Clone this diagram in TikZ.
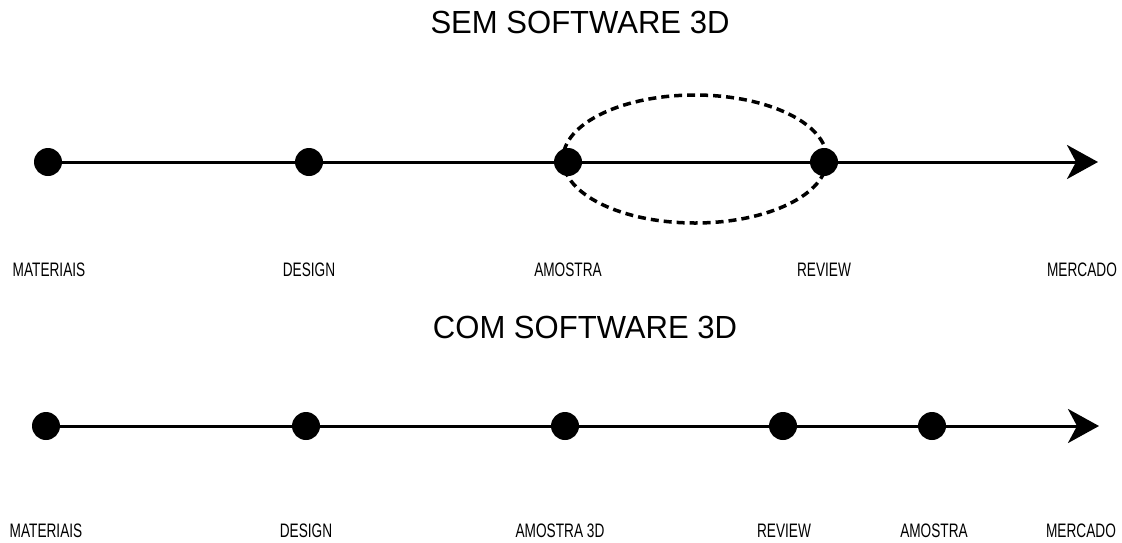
\documentclass[tikz,border=0pt]{standalone}
\usepackage{fontspec}
\usetikzlibrary{arrows.meta}
\newfontfamily\lblfont[FakeStretch=0.70]{Liberation Sans}
\newfontfamily\ttlfont[FakeStretch=0.97]{Liberation Sans}
\tikzset{
  dot/.style={circle, fill=black, minimum size=28pt, inner sep=0pt},
  lbl/.style={font=\lblfont\fontsize{19.5}{22}\selectfont, inner sep=0pt, anchor=center},
  ttl/.style={font=\ttlfont\fontsize{32}{36}\selectfont, inner sep=0pt},
  tline/.style={line width=3pt, draw=black},
  tip/.style={-{Stealth[length=31pt, width=34pt, inset=9pt]}},
  loop/.style={line width=3.5pt, dash pattern=on 8pt off 5pt}
}
\begin{document}
\begin{tikzpicture}[x=1pt, y=-1pt]
  \useasboundingbox (0,0) rectangle (1122,542);

  % --- without 3D software ---
  \node[ttl] (t1) at (580,22.5) {SEM SOFTWARE 3D};
  \node[dot] (a1) at (48,162) {};
  \node[dot] (a2) at (309,162) {};
  \node[dot] (a3) at (568,162) {};
  \node[dot] (a4) at (824,162) {};
  \coordinate (a5) at (1098,162);
  \draw[tline] (a1) -- (a2);
  \draw[tline] (a2) -- (a3);
  \draw[tline] (a3) -- (a4);
  \draw[tline, tip] (a4) -- (a5);
  \draw[loop] (695,159) ellipse [x radius=132, y radius=64];

  \node[lbl] (l1) at (49,270) {MATERIAIS};
  \node[lbl] (l2) at (309,270) {DESIGN};
  \node[lbl] (l3) at (568,270) {AMOSTRA};
  \node[lbl] (l4) at (824,270) {REVIEW};
  \node[lbl] (l5) at (1082,270) {MERCADO};

  % --- with 3D software ---
  \node[ttl] (t2) at (585,327.5) {COM SOFTWARE 3D};
  \node[dot] (b1) at (46,426) {};
  \node[dot] (b2) at (306,426) {};
  \node[dot] (b3) at (565,426) {};
  \node[dot] (b4) at (783,426) {};
  \node[dot] (b5) at (932,426) {};
  \coordinate (b6) at (1099,426);
  \draw[tline] (b1) -- (b2);
  \draw[tline] (b2) -- (b3);
  \draw[tline] (b3) -- (b4);
  \draw[tline] (b4) -- (b5);
  \draw[tline, tip] (b5) -- (b6);

  \node[lbl] (m1) at (46,531) {MATERIAIS};
  \node[lbl] (m2) at (306,531) {DESIGN};
  \node[lbl] (m3) at (560,531) {AMOSTRA 3D};
  \node[lbl] (m4) at (784,531) {REVIEW};
  \node[lbl] (m5) at (934,531) {AMOSTRA};
  \node[lbl] (m6) at (1081,531) {MERCADO};
\end{tikzpicture}
\end{document}
